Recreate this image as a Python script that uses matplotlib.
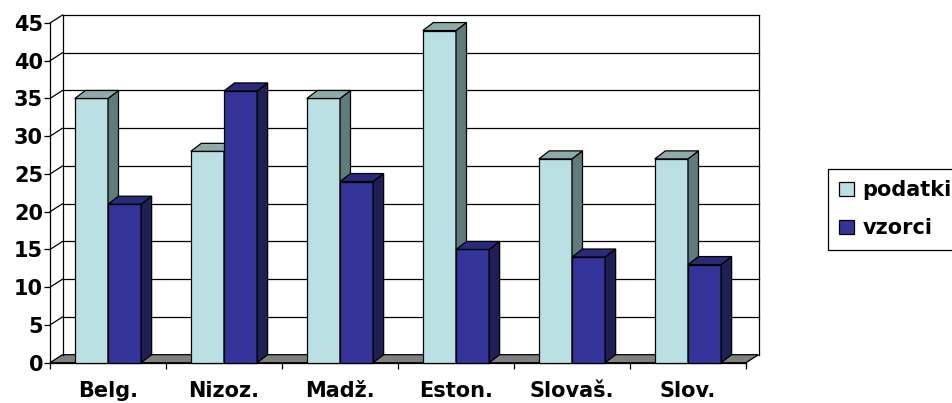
import matplotlib.pyplot as plt
from matplotlib.patches import Polygon, Patch

# podatki grafa
kategorije = ['Belg.', 'Nizoz.', 'Madž.', 'Eston.', 'Slovaš.', 'Slov.']
podatki = [35, 28, 35, 44, 27, 27]
vzorci = [21, 36, 24, 15, 14, 13]
y_oznake = list(range(0, 50, 5))

# barve ploskev: sprednja, stranska, zgornja
barve_podatki = ('#BBE0E3', '#5F7B7C', '#8FAAAB')
barve_vzorci = ('#333399', '#1F1F55', '#2A2A7A')

plt.rcParams['font.family'] = ['DejaVu Sans']
plt.rcParams['font.weight'] = 'bold'

fig = plt.figure(figsize=(9.52, 4.03), dpi=100)
ax = fig.add_axes([50 / 952, 40.3 / 403, 696 / 952, 339.7 / 403])
n = len(kategorije)
ymax = y_oznake[-1]
ax.set_xlim(0, n)
ax.set_ylim(0, ymax)
ax.patch.set_visible(False)

# globina 3D v podatkovnih enotah
px_x = 696 / n
px_y = 339.7 / ymax
DX, DY = 12.5 / px_x, 8 / px_y      # stena
BDX, BDY = 10.5 / px_x, 8 / px_y    # stolpec

lw = 0.9
kw = dict(clip_on=False)

# tla
ax.add_patch(Polygon([(0, 0), (n, 0), (n + DX, DY), (DX, DY)], closed=True,
                     fc='#808080', ec='black', lw=lw, zorder=1, **kw))
# zadnja stena in mreža
for v in y_oznake[1:]:
    ax.plot([DX, n + DX], [v + DY, v + DY], color='black', lw=lw, zorder=1, **kw)
    ax.plot([0, DX], [v, v + DY], color='black', lw=lw, zorder=1, **kw)
ax.plot([DX, DX], [DY, ymax + DY], color='black', lw=lw, zorder=1, **kw)
ax.plot([n + DX, n + DX], [DY, ymax + DY], color='black', lw=lw, zorder=1, **kw)


def stolpec(x0, w, h, barve):
    sprednja = [(x0, 0), (x0 + w, 0), (x0 + w, h), (x0, h)]
    stranska = [(x0 + w, 0), (x0 + w + BDX, BDY), (x0 + w + BDX, h + BDY), (x0 + w, h)]
    zgornja = [(x0, h), (x0 + w, h), (x0 + w + BDX, h + BDY), (x0 + BDX, h + BDY)]
    for tocke, c in zip((sprednja, stranska, zgornja), barve):
        ax.add_patch(Polygon(tocke, closed=True, fc=c, ec='black', lw=lw,
                             zorder=3, **kw))


w = 1 / 3.5
for i in range(n):
    stolpec(i + 0.75 * w, w, podatki[i], barve_podatki)
    stolpec(i + 0.75 * w + w, w, vzorci[i], barve_vzorci)

# osi
for s in ['top', 'right']:
    ax.spines[s].set_visible(False)
for s in ['left', 'bottom']:
    ax.spines[s].set_linewidth(lw)
ax.set_yticks(y_oznake)
ax.set_xticks(range(n + 1))
ax.set_xticklabels([])
ax.set_xticks([i + 0.5 for i in range(n)], minor=True)
ax.set_xticklabels(kategorije, minor=True)
ax.tick_params(axis='both', which='major', direction='out', length=4, width=lw,
               labelsize=15)
ax.tick_params(axis='y', pad=1)
ax.tick_params(axis='x', which='minor', length=0, pad=13, labelsize=15)

# legenda
rocaji = [Patch(fc=barve_podatki[0], ec='black', lw=lw),
          Patch(fc=barve_vzorci[0], ec='black', lw=lw)]
leg = fig.legend(rocaji, ['podatki', 'vzorci'], loc='upper left',
                 bbox_to_anchor=(828 / 952, 1 - 169 / 403), frameon=True,
                 fancybox=False, edgecolor='black', framealpha=1,
                 prop={'size': 15, 'weight': 'bold'}, handlelength=0.7,
                 handleheight=0.7, handletextpad=0.4, labelspacing=0.85,
                 borderpad=0.55, borderaxespad=0)
leg.get_frame().set_linewidth(lw)

fig.savefig('out.png', dpi=100)
plt.close(fig)
